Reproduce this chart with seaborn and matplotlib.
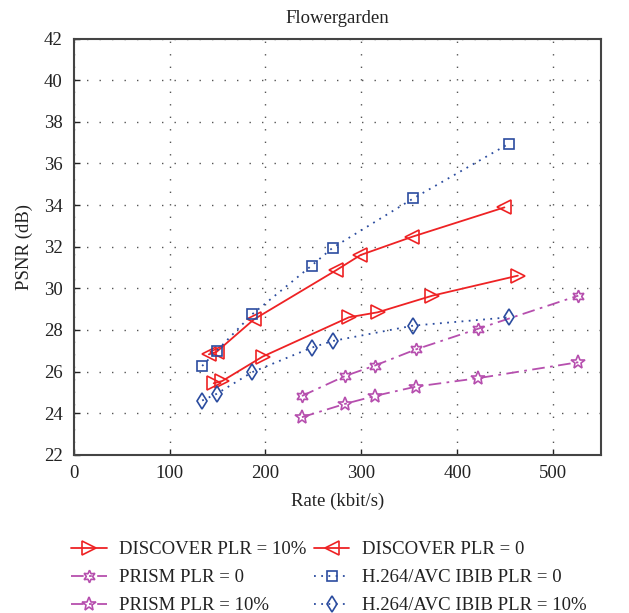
import matplotlib
matplotlib.use("Agg")
import matplotlib.pyplot as plt
import seaborn as sns
import pandas as pd

# ---- data ----
disc10_x = [146, 155, 197, 287, 317, 374, 463]
disc10_y = [25.44, 25.55, 26.72, 28.61, 28.85, 29.65, 30.61]

disc0_x = [141, 149, 188, 274, 299, 353, 449]
disc0_y = [26.83, 26.95, 28.51, 30.88, 31.60, 32.48, 33.89]

prism0_x = [238, 283, 314, 357, 421, 526]
prism0_y = [24.83, 25.79, 26.29, 27.07, 28.05, 29.65]

prism10_x = [238, 283, 314, 357, 421, 526]
prism10_y = [23.81, 24.45, 24.83, 25.28, 25.68, 26.45]

h264_0_x = [134, 149, 186, 248, 270, 354, 454]
h264_0_y = [26.27, 26.99, 28.75, 31.09, 31.95, 34.32, 36.96]

h264_10_x = [134, 149, 186, 248, 270, 354, 454]
h264_10_y = [24.61, 24.93, 25.97, 27.15, 27.47, 28.21, 28.61]

labels = ["DISCOVER PLR = 10%", "DISCOVER PLR = 0", "PRISM PLR = 0",
          "H.264/AVC IBIB PLR = 0", "PRISM PLR = 10%", "H.264/AVC IBIB PLR = 10%"]

x_ticks = [0, 100, 200, 300, 400, 500]
y_ticks = [22, 24, 26, 28, 30, 32, 34, 36, 38, 40, 42]

# ---- style ----
sns.set_style("white")
plt.rcParams["font.family"] = ["Liberation Serif", "DejaVu Serif"]

RED = "#ee2224"
PURPLE = "#b64fae"
BLUE = "#2b4c9f"
TXT = "#222222"
FS = 13.5

fig = plt.figure(figsize=(6.29, 6.13), dpi=100)
ax = fig.add_axes([0.117, 0.258, 0.839, 0.679])

DASHDOT = (0, (7, 3, 1.5, 3))
DOT = (0, (1, 3))
series = [
    (labels[0], disc10_x, disc10_y, RED, ">", "-", 10),
    (labels[1], disc0_x, disc0_y, RED, "<", "-", 10),
    (labels[2], prism0_x, prism0_y, PURPLE, (6, 1, 0), DASHDOT, 9),
    (labels[3], h264_0_x, h264_0_y, BLUE, "s", DOT, 7),
    (labels[4], prism10_x, prism10_y, PURPLE, "*", DASHDOT, 10),
    (labels[5], h264_10_x, h264_10_y, BLUE, "d", DOT, 8),
]

handles = {}
for lab, xs, ys, col, mk, ls, ms in series:
    df = pd.DataFrame({"rate": xs, "psnr": ys})
    sns.lineplot(data=df, x="rate", y="psnr", ax=ax, sort=False, estimator=None,
                 color=col, marker=mk, markersize=ms, markerfacecolor="none",
                 markeredgecolor=col, markeredgewidth=1.2, linewidth=1.3,
                 linestyle=ls, label=lab, legend=False)
    handles[lab] = ax.lines[-1]

ax.set_xlim(0, 550)
ax.set_ylim(22, 42)
ax.set_xticks(x_ticks)
ax.set_yticks(y_ticks)
ax.tick_params(axis="both", direction="in", length=4, width=1, labelsize=FS,
               colors=TXT, top=False, right=False, bottom=True, left=True)
ax.tick_params(axis="x", pad=7)
ax.tick_params(axis="y", pad=8)
ax.grid(True, color="#555555", linewidth=1.0, linestyle=(0, (1, 8)))
for sp in ax.spines.values():
    sp.set_color("#444444")
    sp.set_linewidth(1.5)

ax.set_title("Flowergarden", fontsize=FS, pad=11, color=TXT)
ax.set_xlabel("Rate (kbit/s)", fontsize=FS, color=TXT, labelpad=8)
ax.set_ylabel("PSNR (dB)", fontsize=FS, color=TXT, labelpad=8)

order = [labels[0], labels[2], labels[4], labels[1], labels[3], labels[5]]
leg = fig.legend([handles[l] for l in order], order, ncol=2, loc="upper left",
                 bbox_to_anchor=(0.113, 0.117), frameon=False, fontsize=FS,
                 handlelength=1.9, numpoints=1, columnspacing=0.4,
                 labelspacing=0.58, handletextpad=0.65, borderaxespad=0,
                 borderpad=0)
for t in leg.get_texts():
    t.set_color(TXT)

fig.savefig("out.png", dpi=100)
